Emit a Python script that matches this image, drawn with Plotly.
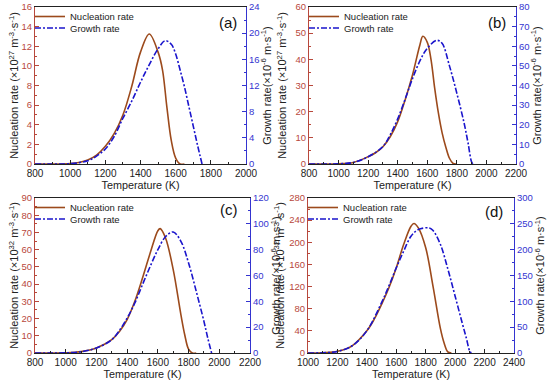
import plotly.graph_objects as go

# ---------------- data ----------------
# Panel (a)
Ta_n = [800, 900, 1000, 1050, 1100, 1150, 1200, 1250, 1300, 1350, 1400, 1450, 1500, 1525, 1550, 1575, 1600, 1625, 1650]
Na = [0, 0, 0.05, 0.15, 0.4, 0.9, 1.8, 3.1, 5.0, 7.9, 11.4, 13.25, 11.4, 9.6, 5.8, 2.4, 0.6, 0, 0]
Ta_g = [800, 900, 1000, 1100, 1150, 1200, 1250, 1300, 1350, 1400, 1450, 1500, 1540, 1575, 1600, 1625, 1650, 1675, 1700, 1725, 1750]
Ga = [0, 0, 0.05, 0.5, 1.2, 2.3, 4.2, 7.0, 9.6, 12.5, 15.2, 17.6, 18.85, 18.3, 16.8, 14.4, 11.8, 8.8, 5.8, 2.8, 0]

# Panel (b)
Tb_n = [800, 900, 1000, 1100, 1200, 1250, 1300, 1350, 1400, 1450, 1500, 1550, 1570, 1600, 1625, 1650, 1675, 1700, 1725, 1750, 1775, 1800]
Nb = [0, 0, 0.1, 0.6, 2.8, 4.3, 6.6, 10.5, 16.2, 24.5, 34, 45.5, 48.8, 46.5, 40, 29, 19.5, 12, 6.5, 2.2, 0.2, 0]
Tb_g = [800, 900, 1000, 1100, 1200, 1300, 1350, 1400, 1450, 1500, 1550, 1600, 1665, 1700, 1750, 1800, 1850, 1875, 1900, 1910]
Gb = [0, 0, 0.1, 0.8, 3.7, 8.9, 15, 23, 33, 43.5, 52.5, 59, 63, 61.5, 50, 36, 20.5, 11, 1, 0]

# Panel (c)
Tc_n = [800, 900, 1000, 1100, 1200, 1300, 1350, 1400, 1450, 1500, 1550, 1600, 1615, 1650, 1700, 1750, 1775, 1800, 1825, 1850]
Nc = [0, 0, 0.1, 0.8, 2.9, 7.7, 12.5, 19.4, 30, 43.5, 58, 71, 72.2, 66.8, 48.4, 22.3, 10.6, 2.2, 0, 0]
Tc_g = [800, 900, 1000, 1100, 1200, 1300, 1350, 1400, 1450, 1500, 1550, 1600, 1650, 1700, 1750, 1800, 1850, 1900, 1925, 1950]
Gc = [0, 0, 0.1, 1.0, 3.8, 10.3, 17.5, 27, 38.7, 53, 67, 80, 90, 93.7, 86.5, 69.7, 47.7, 24.5, 11.6, 0]

# Panel (d)
Td_n = [1000, 1100, 1200, 1300, 1400, 1450, 1500, 1550, 1600, 1650, 1700, 1720, 1750, 1800, 1850, 1900, 1925, 1950, 1975]
Nd = [0, 0.5, 3, 13, 40, 61, 88, 118, 154, 196, 229, 234, 226, 190, 120, 44, 18, 2, 0]
Td_g = [1000, 1100, 1200, 1300, 1400, 1500, 1550, 1600, 1650, 1700, 1750, 1825, 1850, 1900, 1950, 2000, 2050, 2075, 2100, 2110]
Gd = [0, 0.5, 3, 14, 43, 97.6, 130, 165, 197, 226, 239, 242, 237, 210, 163, 110, 56, 30, 3, 0]

labels = ["(a)", "(b)", "(c)", "(d)"]
exps = ["27", "27", "32", "32"]
x_ranges = [[800, 2000], [800, 2200], [800, 2200], [1000, 2400]]
yl_ranges = [[0, 16], [0, 60], [0, 90], [0, 280]]
yl_dtick = [2, 10, 10, 40]
yr_ranges = [[0, 24], [0, 80], [0, 120], [0, 300]]
yr_dtick = [4, 10, 20, 50]

# ---------------- style ----------------
FONT = "Liberation Sans, Arial, sans-serif"
BROWN = "#9c4a1c"
LEFT_C = "#b8483c"
BLUE = "#1a14cc"
RIGHT_C = "#3434d0"
W, H = 550, 382

# panel boxes in pixels: left, right, top, bottom
boxes = [(35, 246, 7, 164), (309, 516, 7, 164), (35, 250, 198, 353), (308, 514, 198, 353)]
doms_x = [[l / W, r / W] for l, r, t, b in boxes]
doms_y = [[1 - b / H, 1 - t / H] for l, r, t, b in boxes]
left_standoff = [0, 6, 0, 2]
right_standoff = [2, 2, 0, 2]

panels = [(Ta_n, Na, Ta_g, Ga), (Tb_n, Nb, Tb_g, Gb), (Tc_n, Nc, Tc_g, Gc), (Td_n, Nd, Td_g, Gd)]

fig = go.Figure()
layout = dict(
    width=W, height=H, showlegend=True,
    margin=dict(l=0, r=0, t=0, b=0, autoexpand=False),
    paper_bgcolor="white", plot_bgcolor="white",
    font=dict(family=FONT, size=10, color="#222"),
)

def legname(n):
    return "legend" if n == 1 else f"legend{n}"

for i, (tn, nv, tg, gv) in enumerate(panels):
    k = i + 1
    xname = "x" if k == 1 else f"x{k}"
    yl = 2 * i + 1
    yr = 2 * i + 2
    ylname = "y" if yl == 1 else f"y{yl}"
    yrname = f"y{yr}"
    leg_n = legname(2 * i + 1)
    leg_g = legname(2 * i + 2)

    fig.add_trace(go.Scatter(x=tn, y=nv, mode="lines", name="Nucleation rate", showlegend=True,
                             line=dict(color=BROWN, width=1.6, shape="spline", smoothing=1.0),
                             xaxis=xname, yaxis=ylname, legend=leg_n))
    fig.add_trace(go.Scatter(x=tg, y=gv, mode="lines", name="Growth rate", showlegend=True,
                             line=dict(color=BLUE, width=1.6, dash="6px,2px,2px,2px", shape="spline", smoothing=1.0),
                             xaxis=xname, yaxis=yrname, legend=leg_g))

    xkey = "xaxis" if k == 1 else f"xaxis{k}"
    ylkey = "yaxis" if yl == 1 else f"yaxis{yl}"
    yrkey = f"yaxis{yr}"

    layout[xkey] = dict(
        domain=doms_x[i], anchor=ylname, range=x_ranges[i], dtick=200,
        showline=True, linecolor="#222", linewidth=1, mirror=True,
        ticks="inside", ticklen=4, tickcolor="#222", tickwidth=1,
        minor=dict(ticks="inside", ticklen=2, dtick=100, tickcolor="#222"),
        showgrid=False, zeroline=False, automargin=False,
        tickfont=dict(size=10, color="#222"),
        title=dict(text="Temperature (K)", font=dict(size=10.8, color="#222"), standoff=2),
    )
    layout[ylkey] = dict(
        domain=doms_y[i], anchor=xname, range=yl_ranges[i], dtick=yl_dtick[i],
        showline=True, linecolor=LEFT_C, linewidth=1,
        ticks="inside", ticklen=4, tickcolor=LEFT_C,
        minor=dict(ticks="inside", ticklen=2, dtick=yl_dtick[i] / 2, tickcolor=LEFT_C),
        showgrid=False, zeroline=False, automargin=False,
        tickfont=dict(size=9.5, color=LEFT_C),
        title=dict(text=f"Nucleation rate (×10<sup>{exps[i]}</sup> m<sup>-3</sup>·s<sup>-1</sup>)",
                   font=dict(size=11, color="#222"), standoff=left_standoff[i]),
    )
    layout[yrkey] = dict(
        domain=doms_y[i], anchor=xname, overlaying=ylname, side="right",
        range=yr_ranges[i], dtick=yr_dtick[i],
        showline=True, linecolor=RIGHT_C, linewidth=1,
        ticks="inside", ticklen=4, tickcolor=RIGHT_C,
        minor=dict(ticks="inside", ticklen=2, dtick=yr_dtick[i] / 2, tickcolor=RIGHT_C),
        showgrid=False, zeroline=False, automargin=False,
        tickfont=dict(size=9.5, color=RIGHT_C),
        title=dict(text="Growth rate(×10<sup>-6</sup> m·s<sup>-1</sup>)",
                   font=dict(size=11, color="#222"), standoff=right_standoff[i]),
    )
    l, r, t, b = boxes[i]
    for n, dy in ((2 * i + 1, 9.5), (2 * i + 2, 21.0)):
        layout[legname(n)] = dict(
            x=(l - 5) / W, y=1 - (t + dy) / H, xanchor="left", yanchor="middle",
            bgcolor="rgba(0,0,0,0)", borderwidth=0, tracegroupgap=0, visible=True,
            font=dict(size=9.5, color="#222"), itemwidth=30,
        )

fig.update_layout(**layout)

label_off = [(7, 15), (8, 16), (10, 11), (9, 13)]
for i in range(4):
    l, r, t, b = boxes[i]
    fig.add_annotation(
        text=labels[i], xref="paper", yref="paper",
        x=(r - label_off[i][0]) / W, y=1 - (t + label_off[i][1]) / H,
        xanchor="right", yanchor="middle", showarrow=False,
        font=dict(family=FONT, size=15, color="#111"),
    )

fig.write_html("out.html", config={"displayModeBar": False},
               post_script="document.body.style.margin='0';document.body.style.overflow='hidden';")
